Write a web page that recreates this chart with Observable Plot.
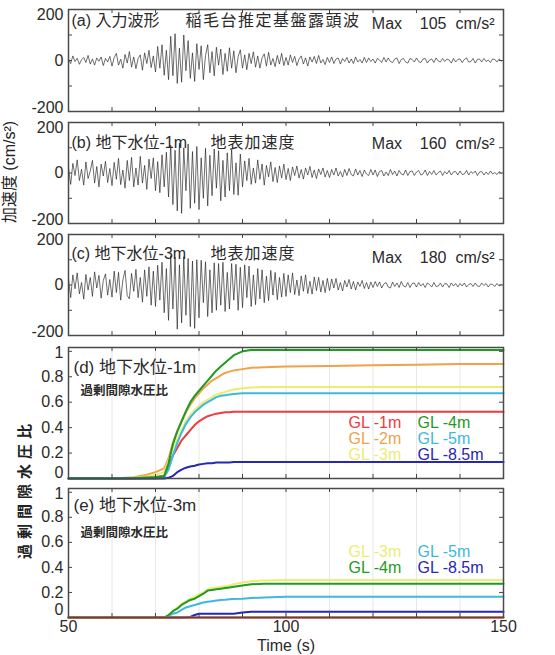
<!DOCTYPE html>
<html><head><meta charset="utf-8">
<script src="https://cdn.jsdelivr.net/npm/d3@7"></script>
<script src="https://cdn.jsdelivr.net/npm/@observablehq/plot@0.6"></script>
<style>
body{margin:0;background:#fff;}
#fig{position:relative;width:555px;height:655px;overflow:hidden;font-family:"Liberation Sans","Noto Sans CJK JP",sans-serif;color:#222;}
#fig svg{position:absolute;left:0;}
.yt{position:absolute;white-space:nowrap;transform:translate(-50%,-50%) rotate(-90deg);line-height:1;}
</style></head><body><div id="fig"></div>
<script>
// ---------- data ----------
const t0 = 50, dt = 0.5; // sampling of the digitised waveforms (s)
// (a) input wave, Inagedai estimated bedrock outcrop (cm/s^2)
const accA = [
 5,-12,18,-4,9,-15,3,12,-8,20, -14,6,-18,10,-3,14,-20,8,-6,16,
 -22,12,28,-18,5,-30,24,-10,35,-26, 14,-32,8,22,-38,30,-12,40,-28,18,
 -45,55,-30,62,-58,40,-75,95,-60,105, -90,48,-85,100,-40,78,-70,30,-82,66,
 -35,58,-75,20,62,-48,35,-60,52,-18, 45,-55,28,-42,50,-30,38,-48,15,42,
 -30,22,-36,28,-12,34,-26,18,-30,10, 26,-22,32,-18,8,-24,20,-14,28,-20,
 12,-18,22,-8,16,-20,6,18,-14,10, -22,14,-6,16,-12,20,-10,4,-16,12,
 -8,14,-12,6,10,-14,8,-4,12,-10, 6,-12,14,-6,4,-10,12,-8,10,-4,
 6,-10,8,2,-8,12,-6,10,-4,-8, 6,10,-12,4,8,-6,-10,8,4,-6,
 10,-4,-8,6,8,-10,2,6,-8,10, -2,-6,8,-4,6,2,-10,8,-6,4,
 6,-8,4,10,-6,-4,8,-10,4,6, -6,8,-4,2,-8,6,4,-6,6,-2];
// (b) ground surface, water table -1 m
const accB = [
 20,-45,38,-10,52,-30,15,-48,44,-22, 8,50,-40,26,-55,35,-12,46,-38,18,
 -50,42,-25,58,-46,12,-60,50,-30,62, -55,20,-48,66,-40,30,-65,55,-22,60,
 -70,45,-78,72,-55,82,-95,110,-125,90, -150,118,-160,100,-70,115,-140,85,-120,105,
 -145,60,-100,98,-130,70,-90,95,-60,88, -110,50,-95,80,-70,92,-85,40,-88,75,
 -55,48,-30,58,-45,20,-40,52,-25,36, -48,30,-15,44,-34,22,-38,28,-20,35,
 -26,18,-30,24,-10,28,-20,14,-24,20, -8,26,-18,12,-22,16,-6,20,-16,10,
 -18,14,-8,20,-12,6,-16,14,-10,18, -6,-12,16,-8,10,-14,12,-4,-10,14,
 -8,12,-14,6,10,-12,4,-10,14,-6, 8,-12,10,-4,-8,12,-10,6,8,-10,
 4,10,-8,-4,12,-10,6,-6,10,-8, 2,8,-10,6,-4,10,-8,4,6,-8,
 8,-6,-4,10,-8,6,-2,8,-10,4, 6,-8,4,-6,8,-4,2,-6,6,-2];
// (c) ground surface, water table -3 m
const accC = [
 25,-50,40,-15,48,-35,10,-56,42,-20, 30,-45,52,-12,38,-52,18,44,-40,22,
 -48,55,-30,50,-60,20,58,-42,-55,46, -25,62,-50,30,-68,60,-45,72,-80,55,
 -85,78,-60,90,-110,65,-140,116,-95,110, -175,80,-150,112,-120,105,-165,95,-172,100,
 -130,98,-70,92,-125,60,-110,88,-100,85, -80,90,-105,50,-95,85,-60,82,-100,70,
 -90,80,-50,75,-85,40,-78,65,-55,60, -70,35,-62,58,-40,50,-58,30,-48,46,
 -45,40,-30,48,-38,20,-42,36,-25,40, -34,15,-36,32,-22,30,-28,18,-30,26,
 -22,24,-12,26,-20,10,-24,18,-8,22, -16,14,-20,12,-6,18,-14,10,-16,12,
 -10,14,-6,12,-12,4,10,-8,-12,12, -6,8,-10,14,-4,-8,10,-10,6,8,
 -8,10,-4,6,-10,8,2,-8,10,-6, -4,8,-8,6,4,-10,8,-4,6,-8,
 6,-4,8,-8,2,6,-6,8,-4,-6, 8,-2,6,-8,4,2,-6,6,-4,2];
const maxValues = [105, 160, 180];

// excess pore water pressure ratio
const ppTime = [50,60,65,68,70,72,73,74,75,76,77,78,79,80,81,82,83,84,85,86,87,88,90,92,95,100,110,120,130,140,150];
const seriesNames  = ["GL -1m","GL -2m","GL -3m","GL -4m","GL -5m","GL -8.5m"];
const seriesColors = ["#ee3b3b","#f0a24a","#ecec72","#1f9a22","#3cb8e2","#2626b8"];
// (d) water table -1 m
const dGL1  = [0,0,0,0.005,0.01,0.02, 0.1,0.18,0.24,0.3,0.34,0.38,0.42,0.45,0.47,0.49,0.5,0.51,0.515,0.52,0.52,0.525, 0.525,0.525,0.525,0.525, 0.525,0.525,0.525,0.525,0.525];
const dGL2  = [0,0,0.01,0.03,0.05,0.08, 0.16,0.28,0.37,0.45,0.52,0.58,0.63,0.67,0.71,0.74,0.77,0.79,0.81,0.83,0.84,0.85, 0.86,0.87,0.875,0.88, 0.885,0.89,0.895,0.9,0.9];
const dGL3  = [0,0,0.005,0.015,0.03,0.05, 0.14,0.24,0.31,0.38,0.45,0.5,0.54,0.57,0.6,0.62,0.64,0.66,0.67,0.68,0.69,0.7, 0.71,0.715,0.72,0.72, 0.72,0.72,0.72,0.72,0.72];
const dGL4  = [0,0,0.003,0.008,0.012,0.02, 0.12,0.27,0.37,0.45,0.53,0.6,0.65,0.69,0.73,0.77,0.81,0.85,0.88,0.91,0.94,0.97, 1.0,1.01,1.01,1.01, 1.01,1.01,1.01,1.01,1.01];
const dGL5  = [0,0,0,0,0,0.01, 0.07,0.18,0.28,0.36,0.43,0.48,0.52,0.55,0.58,0.6,0.62,0.64,0.65,0.655,0.66,0.665, 0.67,0.67,0.67,0.67, 0.67,0.67,0.67,0.67,0.67];
const dGL85 = [0,0,0,0,0,0, 0.005,0.02,0.05,0.07,0.085,0.095,0.1,0.11,0.115,0.12,0.12,0.125,0.125,0.125,0.125,0.13, 0.13,0.13,0.13,0.13, 0.13,0.13,0.13,0.13,0.13];
// (e) water table -3 m
const eGL1  = [0,0,0,0,0,0, 0,0,0,0,0,0,0,0,0,0,0,0,0,0,0,0, 0,0,0,0, 0,0,0,0,0];
const eGL2  = [0,0,0,0,0,0, 0,0,0,0,0,0,0,0,0,0,0,0,0,0,0,0, 0,0,0,0, 0,0,0,0,0];
const eGL3  = [0,0,0,0,0,0, 0.02,0.05,0.08,0.11,0.13,0.15,0.165,0.185,0.2,0.225,0.235,0.24,0.245,0.25,0.255,0.265, 0.28,0.29,0.295,0.3, 0.3,0.3,0.3,0.3,0.3];
const eGL4  = [0,0,0,0,0,0, 0.02,0.05,0.07,0.1,0.12,0.14,0.15,0.17,0.19,0.215,0.22,0.225,0.23,0.235,0.24,0.245, 0.255,0.265,0.27,0.27, 0.27,0.27,0.27,0.27,0.27];
const eGL5  = [0,0,0,0,0,0, 0.01,0.03,0.04,0.06,0.08,0.09,0.1,0.11,0.12,0.125,0.13,0.135,0.14,0.142,0.145,0.148, 0.15,0.155,0.16,0.165, 0.165,0.165,0.165,0.165,0.165];
const eGL85 = [0,0,0,0,0,0, 0,0,0,0,0,0.005,0.02,0.03,0.03,0.03,0.03,0.03,0.03,0.03,0.03,0.03, 0.04,0.045,0.045,0.045, 0.045,0.045,0.045,0.045,0.045];

const xTickLabels = [50, 100, 150];
const xMinorTicks = [60,70,80,90,100,110,120,130,140];
const accTickLabels = [200, 0, -200];
const accMinorTicks = [-100, 0, 100];
const ppTickLabels = [0, 0.2, 0.4, 0.6, 0.8, 1];

// ---------- layout ----------
const FONT = '"Liberation Sans","Noto Sans CJK JP",sans-serif';
const W = 555, ML = 68, MR = 52, IW = W - ML - MR;
const fig = document.getElementById("fig");
const ink = "#2a2a2a";

function frameMarks(ih, yMinor) {
  return [
    Plot.tickX(xMinorTicks, {x: d => d, insetBottom: ih - 4, stroke: "#444"}),
    Plot.tickX(xMinorTicks, {x: d => d, insetTop: ih - 4, stroke: "#444"}),
    Plot.tickY(yMinor, {y: d => d, insetRight: IW - 4, stroke: "#444"}),
    Plot.tickY(yMinor, {y: d => d, insetLeft: IW - 4, stroke: "#444"}),
    Plot.frame({stroke: "#4a4a4a", strokeWidth: 1.5})
  ];
}
function yLabels(ticks, top, bottom, dyTop, dyBottom) {
  return ticks.map(v => Plot.axisY([v], {tickSize: 0, tickPadding: 5, fontSize: 16, fill: ink,
    label: null, tickFormat: d => String(d),
    dy: v === top ? dyTop : v === bottom ? dyBottom : 0}));
}
function makePanel(top, bottom, yDomain, marks, mb = 8, spaced = {}) {
  const mt = 8;
  const svg = Plot.plot({
    width: W, height: bottom - top + mt + mb,
    marginLeft: ML, marginRight: MR, marginTop: mt, marginBottom: mb,
    style: {background: "none", overflow: "visible", fontFamily: FONT, color: ink},
    x: {domain: [50, 150], axis: null},
    y: {domain: yDomain, axis: null},
    color: {domain: seriesNames, range: seriesColors},
    marks
  });
  svg.style.top = (top - mt) + "px";
  d3.select(svg).selectAll("text").each(function () {
    const ls = spaced[this.textContent];
    if (ls != null) this.setAttribute("letter-spacing", ls);
  });
  fig.appendChild(svg);
}
function label(str, dx, dy, opts = {}) {
  return Plot.text([str], {frameAnchor: "top-left", dx, dy, textAnchor: "start", lineAnchor: "middle",
    fontSize: 16, fill: ink, ...opts});
}
function maxLabel(v, dy) {
  return Plot.text([`Max\u00a0\u00a0\u00a0\u00a0${v}\u00a0\u00a0cm/s²`], {frameAnchor: "top-right", dx: -9, dy,
    textAnchor: "end", lineAnchor: "middle", fontSize: 16, fill: ink});
}
const wave = arr => arr.map((v, i) => ({t: t0 + i * dt, v}));
const longPP = pairs => pairs.flatMap(([name, arr]) => arr.map((v, i) => ({t: ppTime[i], v, s: name})));

// waveform panels
const panels = [
  {top: 9,   bottom: 111, data: accA, t1: "(a) 入力波形", t2: "稲毛台推定基盤露頭波", t2x: 117, ty: 11, my: 14, max: maxValues[0]},
  {top: 122, bottom: 223, data: accB, t1: "(b) 地下水位-1m", t2: "地表加速度", t2x: 142, ty: 20, my: 21, max: maxValues[1]},
  {top: 234, bottom: 335, data: accC, t1: "(c) 地下水位-3m", t2: "地表加速度", t2x: 142, ty: 19, my: 23, max: maxValues[2]}
];
for (const p of panels) {
  const ih = p.bottom - p.top;
  makePanel(p.top, p.bottom, [-200, 200], [
    Plot.line(wave(p.data), {x: "t", y: "v", stroke: "#202020", strokeWidth: 0.65}),
    ...frameMarks(ih, accMinorTicks),
    ...yLabels(accTickLabels, 200, -200, 5, -4),
    label(p.t1, 3, p.ty),
    label(p.t2, p.t2x, p.ty),
    maxLabel(p.max, p.my)
  ], 8, {"稲毛台推定基盤露頭波": "1.5", "地表加速度": "1"});
}

// pore pressure panels
function legendMarks(entries) {
  return entries.map(([name, col, row, y0]) =>
    label(name, col === 0 ? 280 : 349, y0 + row * 16.3, {fill: seriesColors[seriesNames.indexOf(name)], fontSize: 16}));
}
const gridX = Plot.ruleX(xMinorTicks, {stroke: "#e6e6e6", strokeWidth: 1});
const ppLine = data => Plot.line(data, {x: "t", y: "v", z: "s", stroke: "s", strokeWidth: 2});

makePanel(347, 478, [0, 1.03], [
  gridX,
  ppLine(longPP([["GL -1m", dGL1], ["GL -2m", dGL2], ["GL -3m", dGL3], ["GL -5m", dGL5], ["GL -8.5m", dGL85], ["GL -4m", dGL4]])),
  ...frameMarks(131, ppTickLabels),
  ...yLabels(ppTickLabels, 1, 0, 2, -6),
  label("(d) 地下水位-1m", 5, 20, {fontSize: 17}),
  label("過剰間隙水圧比", 12, 43, {fontSize: 12.5, fontWeight: "bold"}),
  ...legendMarks([["GL -1m",0,0,75],["GL -2m",0,1,75],["GL -3m",0,2,75],["GL -4m",1,0,75],["GL -5m",1,1,75],["GL -8.5m",1,2,75]])
]);

makePanel(488, 617, [0, 1.03], [
  gridX,
  ppLine(longPP([["GL -8.5m", eGL85], ["GL -5m", eGL5], ["GL -3m", eGL3], ["GL -4m", eGL4], ["GL -2m", eGL2], ["GL -1m", eGL1]])),
  ...frameMarks(129, ppTickLabels),
  ...yLabels(ppTickLabels, 1, 0, 2, -8),
  label("(e) 地下水位-3m", 5, 17, {fontSize: 17}),
  label("過剰間隙水圧比", 12, 44, {fontSize: 12.5, fontWeight: "bold"}),
  ...legendMarks([["GL -3m",0,0,63],["GL -4m",0,1,63],["GL -5m",1,0,63],["GL -8.5m",1,1,63]]),
  Plot.axisX(xTickLabels, {tickSize: 0, tickPadding: 3, fontSize: 16, fill: ink, label: null}),
  Plot.text(["Time (s)"], {frameAnchor: "bottom", dy: 28, lineAnchor: "middle", fontSize: 16, fill: ink})
], 40);

// rotated axis titles
function yTitle(text, cx, cy, css) {
  const d = document.createElement("div");
  d.className = "yt"; d.textContent = text;
  d.style.left = cx + "px"; d.style.top = cy + "px";
  Object.assign(d.style, css);
  fig.appendChild(d);
}
yTitle("加速度 (cm/s²)", 10, 172, {fontSize: "16px"});
yTitle("過剰間隙水圧比", 24, 489, {fontSize: "15px", fontWeight: "bold", letterSpacing: "5px"});
</script></body></html>
